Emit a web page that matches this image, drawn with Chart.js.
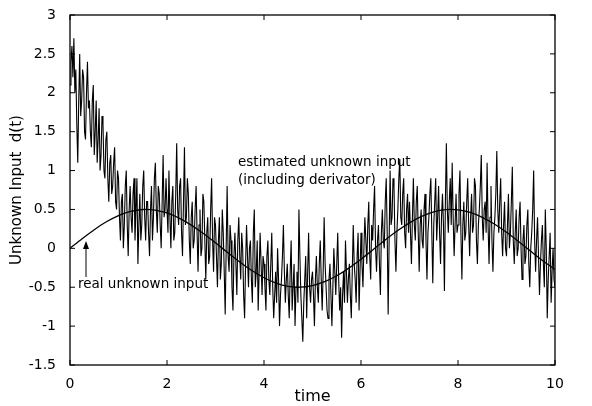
<!DOCTYPE html>
<html>
<head>
<meta charset="utf-8">
<script src="https://cdn.jsdelivr.net/npm/chart.js@4.4.0/dist/chart.umd.min.js"></script>
<style>
  html, body { margin: 0; padding: 0; background: #fff; }
  #wrap { width: 592px; height: 406px; }
</style>
</head>
<body>
<div id="wrap"><canvas id="grafico" width="592" height="406"></canvas></div>
<script>
// estimated unknown input (including derivator), one sample every 0.02
var passoEstimado = 0.02
var estimado = [
    // 0 - 1
    2.1, 2.4, 2.6, 2.2, 2.7, 2.0, 2.3, 1.6, 1.1, 1.9, 2.5, 1.7, 1.9, 2.3, 2.2, 1.5, 1.4, 2.0, 2.4, 1.8,
    1.9, 1.5, 1.3, 1.9, 2.1, 1.2, 1.5, 1.9, 1.1, 1.4, 1.8, 1.0, 1.2, 1.7, 1.6, 1.0, 0.9, 1.4, 1.5, 0.9,
    0.6, 1.1, 1.2, 0.7, 0.8, 1.1, 1.3, 0.6, 0.5, 1.0,
    // 1 - 2
    0.9, 0.4, 0.1, 0.6, 0.7, 0.0, 0.3, 0.8, 1.0, 0.3, -0.1, 0.5, 0.8, 0.4, 0.2, 0.7, 0.9, 0.1, 0.5, 0.9,
    -0.2, 0.3, 0.7, 0.1, 0.3, 0.8, 1.0, 0.4, 0.1, 0.6, 0.6, 0.2, -0.1, 0.5, 0.8, 0.1, 0.4, 0.9, 1.1, 0.5,
    0.2, 0.8, 0.7, 0.3, 0.0, 0.6, 1.2, 0.4, 0.5, 0.9,
    // 2 - 3
    0.5, 0.2, 1.0, 0.4, 0.0, 0.6, 0.8, 0.1, 0.2, 0.7, 1.35, 0.5, 0.3, 0.8, 0.9, 0.2, -0.1, 0.6, 1.3, 0.3,
    0.4, 0.9, 0.7, 0.1, -0.2, 0.4, 0.6, 0.0, 0.1, 0.5, 0.8, 0.2, -0.3, 0.3, 0.5, -0.1, 0.0, 0.7, 0.6, 0.1,
    -0.4, 0.2, 0.4, -0.2, -0.1, 0.5, 0.9, 0.1, -0.3, 0.4,
    // 3 - 4
    0.3, -0.1, -0.5, 0.1, 0.4, -0.4, -0.2, 0.5, 0.2, -0.3, -0.85, 0.0, 0.8, -0.1, -0.3, 0.3, 0.1, -0.5, -0.8, -0.1,
    0.2, -0.2, -0.6, 0.1, 0.4, -0.1, -0.4, 0.2, 0.0, -0.6, -0.9, -0.2, 0.3, -0.1, -0.5, 0.0, 0.1, -0.4, -0.7, 0.2,
    0.5, -0.5, -0.3, 0.1, -0.8, -0.3, 0.2, -0.2, -0.6, -0.1,
    // 4 - 5
    -0.2, -0.5, -0.8, -0.1, 0.1, -0.4, -0.6, -0.2, 0.2, -0.5, -0.9, -0.6, -0.3, -0.7, 0.0, -0.4, -1.0, -0.6, -0.4, -0.1,
    0.3, -0.3, -0.7, -0.4, -0.2, -0.6, -0.9, -0.3, 0.1, -0.8, -0.5, -0.2, -1.0, -0.5, -0.3, -0.7, 0.5, -0.1, -0.6, -0.9,
    -1.2, -0.7, -0.4, -0.1, -0.9, -0.3, 0.2, -0.5, -0.7, -0.4,
    // 5 - 6
    -0.3, -0.6, -1.0, -0.4, -0.1, -0.5, -0.7, -0.2, 0.1, -0.4, -0.8, -0.3, 0.4, -0.2, -0.5, -0.8, -0.9, -0.4, -0.2, -0.6,
    -1.0, -0.5, 0.0, -0.3, -0.6, -0.2, 0.2, -0.4, -0.8, -0.5, -1.15, -0.6, -0.3, -0.7, 0.1, -0.3, -0.7, -0.4, -0.2, -0.6,
    -0.9, -0.3, 0.3, -0.2, -0.4, -0.7, -0.1, 0.2, -0.8, -0.3,
    // 6 - 7
    0.2, -0.2, -0.5, 0.0, 0.4, 0.1, -0.2, 0.3, 0.6, -0.1, -0.4, 0.3, 0.1, 0.5, 0.8, 0.0, -0.3, 0.1, 0.3, -0.2,
    -0.6, 0.2, 0.5, 0.1, 0.0, 0.6, 0.9, 0.2, -0.85, 0.1, 1.0, 0.3, 0.4, 0.9, 0.8, 0.1, -0.3, 0.2, 0.5, 0.9,
    1.15, 0.4, 0.3, 0.7, 0.9, 0.2, 0.0, 0.5, 0.7, 0.2,
    // 7 - 8
    0.6, 0.2, -0.2, 0.4, 0.9, 0.3, 0.1, 0.6, 0.8, 0.2, -0.3, 0.3, 0.5, 0.1, 0.0, 0.5, 0.7, 0.1, -0.4, 0.2,
    0.4, 0.7, 0.9, 0.2, -0.45, 0.3, 0.6, 0.9, 0.1, 0.4, 0.8, 0.2, -0.2, 0.4, 0.7, 0.3, -0.55, 0.6, 1.35, 0.5,
    0.2, 0.6, 0.9, 0.3, 1.1, 0.4, -0.1, 0.3, 0.7, 0.2,
    // 8 - 9
    0.3, 0.7, 1.0, 0.2, -0.4, 0.3, 0.6, 0.1, 0.2, 0.6, 0.9, 0.3, -0.1, 0.4, 0.7, 0.2, 0.3, 0.9, 0.8, 0.1,
    -0.2, 0.3, 0.5, 0.8, 1.2, 0.4, 0.1, 0.5, 0.6, 0.2, 1.1, 0.3, -0.2, 0.4, 0.8, 0.1, -0.3, 0.2, 0.4, 0.7,
    1.25, 0.5, 0.2, 0.6, 0.9, 0.2, -0.1, 0.3, 0.6, 0.0,
    // 9 - 10
    -0.1, 0.3, 0.7, 0.0, 0.2, 0.6, 1.05, 0.1, -0.2, 0.2, 0.5, -0.1, 0.0, 0.4, 0.6, 0.0, -0.4, 0.1, 0.3, -0.2,
    -0.1, 0.3, 0.5, -0.2, -0.5, 0.0, 0.2, 0.5, 1.0, 0.1, -0.3, 0.1, 0.4, -0.1, -0.6, -0.2, 0.1, 0.3, -0.2, -0.5,
    0.5, 0.0, -0.9, -0.4, -0.1, 0.2, -0.7, -0.3, 0.0, -0.4,
    -0.5
]

// real unknown input
var tempoReal = [0, 0.25, 0.5, 0.75, 1, 1.25, 1.5, 1.75, 2, 2.25, 2.5, 2.75, 3, 3.25, 3.5, 3.75, 4, 4.25, 4.5, 4.75, 5,
    5.25, 5.5, 5.75, 6, 6.25, 6.5, 6.75, 7, 7.25, 7.5, 7.75, 8, 8.25, 8.5, 8.75, 9, 9.25, 9.5, 9.75, 10]
var real = [0, 0.124, 0.240, 0.341, 0.421, 0.474, 0.499, 0.492, 0.455, 0.389, 0.299, 0.191, 0.071, -0.054, -0.175, -0.286,
    -0.378, -0.448, -0.489, -0.500, -0.479, -0.429, -0.353, -0.254, -0.140, -0.017, 0.108, 0.225, 0.328, 0.412, 0.469,
    0.497, 0.495, 0.461, 0.399, 0.312, 0.206, 0.087, -0.038, -0.160, -0.272]

var ticksX = [0, 2, 4, 6, 8, 10]
var ticksY = [-1.5, -1, -0.5, 0, 0.5, 1, 1.5, 2, 2.5, 3]

var fonte = "'DejaVu Sans', Arial, sans-serif"

var pontosEstimado = estimado.map(function (v, i) {
    return { x: Math.round(i * passoEstimado * 100) / 100, y: v }
})
var pontosReal = real.map(function (v, i) {
    return { x: tempoReal[i], y: v }
})

// box, inward ticks and text labels like the original figure
var moldura = {
    id: 'moldura',
    afterDatasetsDraw: function (chart) {
        var ctx = chart.ctx
        var a = chart.chartArea
        var sx = chart.scales.x
        var sy = chart.scales.y
        ctx.save()
        ctx.strokeStyle = '#000'
        ctx.lineWidth = 1.3
        ctx.strokeRect(a.left, a.top, a.right - a.left, a.bottom - a.top)
        ctx.lineWidth = 1
        ctx.beginPath()
        ticksX.forEach(function (t) {
            var px = sx.getPixelForValue(t)
            ctx.moveTo(px, a.bottom); ctx.lineTo(px, a.bottom - 5)
            ctx.moveTo(px, a.top); ctx.lineTo(px, a.top + 5)
        })
        ticksY.forEach(function (t) {
            var py = sy.getPixelForValue(t)
            ctx.moveTo(a.left, py); ctx.lineTo(a.left + 5, py)
            ctx.moveTo(a.right, py); ctx.lineTo(a.right - 5, py)
        })
        ctx.stroke()

        ctx.fillStyle = '#000'
        ctx.font = '13.5px ' + fonte
        ctx.textBaseline = 'middle'
        ctx.textAlign = 'left'
        ctx.fillText('estimated unknown input', 238, 162)
        ctx.fillText('(including derivator)', 238, 180)
        ctx.fillText('real unknown input', 78, 284)

        // arrow to the real curve
        var ax = 86
        ctx.beginPath()
        ctx.moveTo(ax, 277); ctx.lineTo(ax, 243)
        ctx.stroke()
        ctx.beginPath()
        ctx.moveTo(ax, 241); ctx.lineTo(ax - 3, 249); ctx.lineTo(ax + 3, 249)
        ctx.closePath()
        ctx.fill()
        ctx.restore()
    }
}

function rotulo(v) {
    return String(v)
}

var config = {
    type: 'line',
    data: {
        datasets: [{
            label: 'estimated unknown input',
            data: pontosEstimado,
            borderColor: '#000',
            borderWidth: 1.1,
            pointRadius: 0,
            tension: 0
        }, {
            label: 'real unknown input',
            data: pontosReal,
            borderColor: '#000',
            borderWidth: 1.3,
            pointRadius: 0,
            tension: 0.3
        }]
    },
    options: {
        responsive: false,
        animation: false,
        layout: { padding: { top: 15, right: 37, left: 0, bottom: 0 } },
        plugins: {
            legend: { display: false },
            tooltip: { enabled: false }
        },
        scales: {
            x: {
                type: 'linear',
                min: 0,
                max: 10,
                afterFit: function (s) { s.height = 41 },
                afterBuildTicks: function (s) { s.ticks = ticksX.map(function (v) { return { value: v } }) },
                grid: { display: false },
                border: { display: false },
                ticks: { color: '#000', padding: 3, callback: rotulo, font: { family: fonte, size: 14 } },
                title: { display: true, text: 'time', color: '#000', padding: 0, font: { family: fonte, size: 16 } }
            },
            y: {
                type: 'linear',
                min: -1.5,
                max: 3,
                afterFit: function (s) { s.width = 70 },
                afterBuildTicks: function (s) { s.ticks = ticksY.map(function (v) { return { value: v } }) },
                grid: { display: false },
                border: { display: false },
                ticks: { color: '#000', padding: 6, callback: rotulo, font: { family: fonte, size: 14 } },
                title: { display: true, text: 'Unknown Input  d(t)', color: '#000', padding: { top: 8, bottom: 0 }, font: { family: fonte, size: 15 } }
            }
        }
    },
    plugins: [moldura]
}

var grafico = new Chart(document.getElementById('grafico'), config)
</script>
</body>
</html>
